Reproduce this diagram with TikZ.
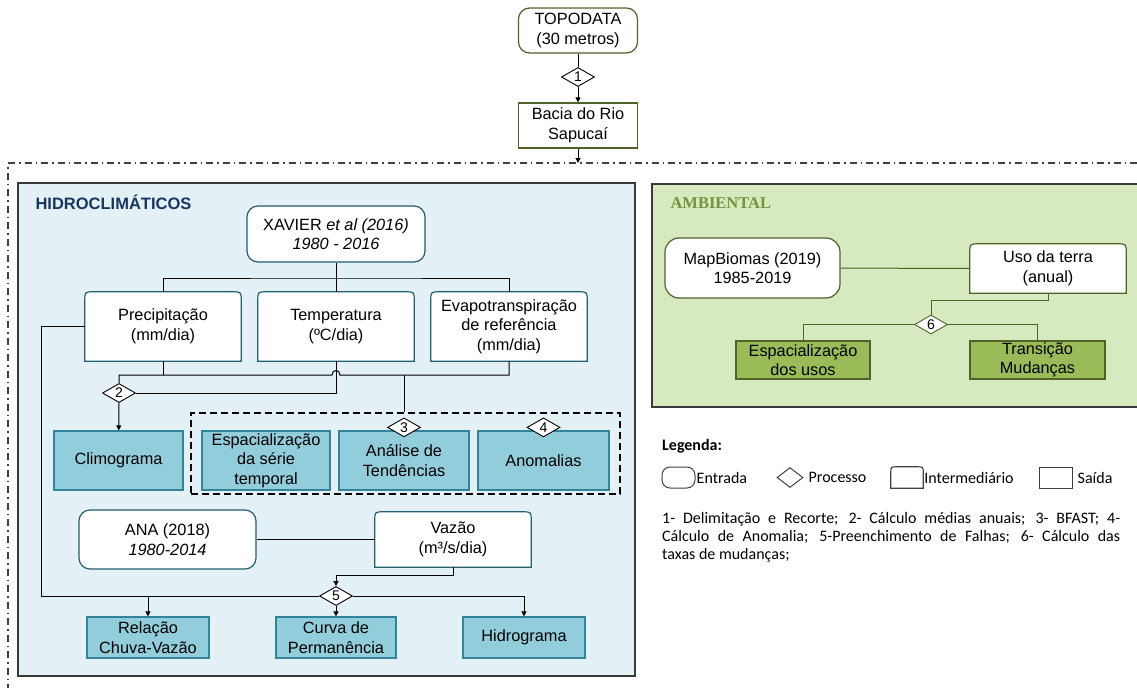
\documentclass[tikz,border=0pt]{standalone}
\usepackage{fontspec}
\setmainfont{Liberation Sans}
\newfontfamily\legfont{Carlito}
\newfontfamily\ambfont{Liberation Serif}
\usepackage{tikz}
\usetikzlibrary{shapes.geometric,arrows.meta,fit}
\pgfdeclarelayer{back}
\pgfdeclarelayer{mid}
\pgfsetlayers{back,mid,main}
\definecolor{hidfill}{HTML}{E3F0F5}
\definecolor{hidout}{HTML}{92CDDC}
\definecolor{hidline}{HTML}{31849B}
\definecolor{inline}{HTML}{215F6E}
\definecolor{navy}{HTML}{17375E}
\definecolor{ambfill}{HTML}{D7E9BE}
\definecolor{ambout}{HTML}{9BBB59}
\definecolor{ambline}{HTML}{4F6228}
\definecolor{ambtitle}{HTML}{77933C}
\definecolor{panline}{HTML}{3A3A3A}
\definecolor{legline}{HTML}{404040}
\newcommand\topround[3][9pt]{%
  \begin{pgfonlayer}{mid}
    \draw[draw=#3, line width=1.2pt, fill=white] (#2.south west) -- ([yshift=-#1]#2.north west)
      .. controls (#2.north west) .. ([xshift=#1]#2.north west) -- ([xshift=-#1]#2.north east)
      .. controls (#2.north east) .. ([yshift=-#1]#2.north east) -- (#2.south east) -- cycle;
  \end{pgfonlayer}}
\begin{document}
\begin{tikzpicture}[x=1pt,y=-1pt,
    txt/.style={font=\fontsize{16.3}{19.5}\selectfont, align=center, inner sep=1pt},
    inbox/.style={txt, draw=#1, fill=white, line width=1.2pt, rounded corners=11pt},
    outbox/.style={txt, draw=hidline, fill=hidout, line width=1.2pt},
    ambbox/.style={txt, draw=ambline, fill=ambout, line width=1.2pt},
    proc/.style={diamond, draw=black, fill=white, line width=0.9pt, inner sep=0pt, shape aspect=1.7,
      minimum width=33pt, minimum height=19pt, font=\fontsize{14}{14}\selectfont},
    link/.style={line width=1pt},
    arr/.style={link, -{Triangle[length=5pt,width=5pt]}}]
	\useasboundingbox (0,0) rectangle (1137,688);
	\begin{pgfonlayer}{back}
		\draw[draw=panline, fill=hidfill, line width=1.3pt] (18,183) rectangle (635,676);
		\draw[draw=panline, fill=ambfill, line width=1.3pt] (652,184) rectangle (1145,407);
	\end{pgfonlayer}
	\coordinate (sepL) at (8,163);
	\coordinate (sepR) at (1137,163);
	\coordinate (sepB) at (8,688);
	\draw[legline, line width=1.2pt, dash pattern=on 7pt off 4pt on 1.5pt off 4pt] (sepR) -- (sepL) -- (sepB);
	\node[inbox=ambline, minimum width=119pt, minimum height=45pt] (topo) at (578,30.5) {TOPODATA\\(30 metros)};
	\node[proc] (d1) at (578,77) {1};
	\node[txt, draw=ambline, fill=white, line width=1.2pt, minimum width=119pt, minimum height=45pt] (bacia) at (578,125.5) {Bacia do Rio\\Sapucaí};
	\draw[link] (topo) -- (d1);
	\draw[arr] (d1) -- (bacia);
	\draw[arr] (bacia) -- (bacia.south |- sepL);
	\node[anchor=west, text=navy, font=\fontsize{16.5}{18}\selectfont\bfseries] (hidt) at (32,202) {HIDROCLIMÁTICOS};
	\node[inbox=inline, minimum width=178pt, minimum height=56pt] (xav) at (336,234) {XAVIER \textit{et al (2016)}\\\textit{1980 - 2016}};
	\node[txt, minimum width=156pt, minimum height=69pt] (prec) at (163,326.5) {Precipitação\\(mm/dia)};
	\node[txt, minimum width=156pt, minimum height=69pt] (temp) at (336,326.5) {Temperatura\\(ºC/dia)};
	\node[txt, minimum width=156pt, minimum height=69pt] (evap) at (509,326.5) {Evapotranspiração\\de referência\\(mm/dia)};
	\topround{prec}{inline}
	\topround{temp}{inline}
	\topround{evap}{inline}
	\coordinate (br) at (336,278);
	\coordinate (hy) at (0,375);
	\draw[link] (xav) -- (temp);
	\draw[link] (prec.north) |- (br) -| (evap.north);
	\node[proc] (d2) at (119,393) {2};
	\node[outbox, minimum width=129pt, minimum height=59pt] (clim) at (118.5,460.5) {Climograma};
	\node[outbox, minimum width=128pt, minimum height=59pt] (esp) at (266,460.5) {Espacialização\\da série\\temporal};
	\node[outbox, minimum width=130pt, minimum height=59pt] (tend) at (404,460.5) {Análise de\\Tendências};
	\node[outbox, minimum width=131pt, minimum height=59pt] (anom) at (543.5,460.5) {Anomalias};
	\node[draw, dashed, line width=1.2pt, dash pattern=on 7pt off 4pt, inner sep=0pt, fit={(191,413) (620,494)}] (grp) {};
	\node[proc] (d3) at ([yshift=3pt]tend.north) {3};
	\node[proc] (d4) at ([yshift=3pt]anom.north) {4};
	\draw[link] (d2.north) |- ([xshift=-4pt]temp.south |- hy) .. controls +(0,-6) and +(0,-6) .. ([xshift=4pt]temp.south |- hy) -- (evap.south |- hy) -- (evap.south);
	\draw[link] (prec.south) -- (prec.south |- hy);
	\draw[link] (tend.north |- hy) -- (tend.north |- grp.north);
	\draw[link] (temp.south) |- (d2.east);
	\draw[arr] (d2) -- (clim);
	\node[inbox=inline, minimum width=177pt, minimum height=59pt] (ana) at (167.5,539.5) {ANA (2018)\\\textit{1980-2014}};
	\node[txt, minimum width=156pt, minimum height=55pt] (vaz) at (453,539.5) {Vazão\\(m³/s/dia)};
	\topround{vaz}{inline}
	\draw[link] (ana) -- (vaz);
	\node[proc] (d5) at (336,596) {5};
	\node[outbox, minimum width=122pt, minimum height=41pt] (rel) at (148,637.5) {Relação\\Chuva-Vazão};
	\node[outbox, minimum width=120pt, minimum height=41pt] (cur) at (336,637.5) {Curva de\\Permanência};
	\node[outbox, minimum width=122pt, minimum height=41pt] (hid) at (524,637.5) {Hidrograma};
	\coordinate (lft) at (41,596);
	\draw[arr] (vaz.south) -- ++(0,8) -| (d5.north);
	\draw[arr] (prec.west) -| (lft) -| (rel.north);
	\draw[link] (d5.west) -- (d5.west -| rel.north);
	\draw[arr] (d5) -- (cur);
	\draw[arr] (d5.east) -| (hid.north);
	\node[anchor=west, text=ambtitle, font=\ambfont\fontsize{16.5}{18}\selectfont\bfseries] (ambt) at (667,203) {AMBIENTAL};
	\node[inbox=ambline, rounded corners=14pt, minimum width=175pt, minimum height=60pt] (mapb) at (752.5,268) {MapBiomas (2019)\\1985-2019};
	\node[txt, minimum width=156pt, minimum height=49pt] (uso) at (1048,268.5) {Uso da terra\\(anual)};
	\topround{uso}{ambline}
	\draw[ambline, link] (mapb) -- (uso);
	\node[proc, draw=ambline] (d6) at (931,324.5) {6};
	\node[ambbox, minimum width=134pt, minimum height=38pt] (espu) at (803,360) {Espacialização\\dos usos};
	\node[ambbox, minimum width=135pt, minimum height=38pt] (trans) at (1037.5,360) {Transição\\Mudanças};
	\draw[ambline, link] (uso.south) -- ++(0,7) -| (d6.north);
	\draw[ambline, link] (d6.west) -| (espu.north);
	\draw[ambline, link] (d6.east) -| (trans.north);
	\node[anchor=west, inner sep=0pt, font=\legfont\fontsize{16}{18}\selectfont\bfseries] (leg) at (662,446.5) {Legenda:};
	\node[draw=legline, line width=1pt, rounded corners=8pt, minimum width=33pt, minimum height=21pt] (lent) at (678.5,477.5) {};
	\node[diamond, draw=legline, line width=1pt, inner sep=0pt, minimum width=26pt, minimum height=20pt] (lproc) at (790,477.5) {};
	\node[inner sep=0pt, minimum width=32pt, minimum height=21pt] (lmid) at (907,477.5) {};
	\topround[6pt]{lmid}{legline}
	\node[draw=legline, line width=1pt, minimum width=33pt, minimum height=21pt] (lout) at (1055.5,477.5) {};
	\node[anchor=west, inner sep=1pt, font=\legfont\fontsize{16}{18}\selectfont] at (lent.east) {Entrada};
	\node[anchor=west, inner sep=1pt, font=\legfont\fontsize{16}{18}\selectfont] at ([xshift=4pt]lproc.east) {Processo};
	\node[anchor=west, inner sep=1pt, font=\legfont\fontsize{16}{18}\selectfont] at (lmid.east) {Intermediário};
	\node[anchor=west, inner sep=1pt, font=\legfont\fontsize{16}{18}\selectfont] at ([xshift=4pt]lout.east) {Saída};
	\node[anchor=north west, inner sep=0pt, text width=458pt, align=justify, font=\legfont\fontsize{16}{18.3}\selectfont] (legtxt) at (662,512) {1- Delimitação e Recorte; 2- Cálculo médias anuais; 3- BFAST; 4-\linebreak Cálculo de Anomalia; 5-Preenchimento de Falhas; 6- Cálculo das\linebreak taxas de mudanças;};
\end{tikzpicture}
\end{document}
